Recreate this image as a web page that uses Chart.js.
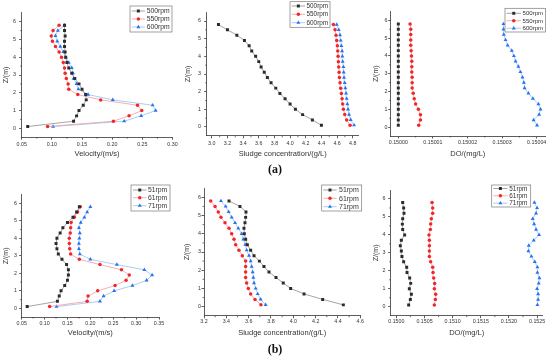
<!DOCTYPE html>
<html><head><meta charset="utf-8">
<script src="https://cdn.jsdelivr.net/npm/chart.js@4.4.1/dist/chart.umd.min.js"></script>
<style>
html,body{margin:0;padding:0;background:#fff;width:550px;height:361px;overflow:hidden}
body{position:relative}
canvas{position:absolute;left:0;top:0}
.lab{position:absolute;font:bold 12px "Liberation Serif","DejaVu Serif",serif;color:#111;transform:translate(-50%,-50%);white-space:nowrap}
</style></head><body>
<canvas id="p1" width="550" height="361"></canvas>
<canvas id="p2" width="550" height="361"></canvas>
<canvas id="p3" width="550" height="361"></canvas>
<canvas id="p4" width="550" height="361"></canvas>
<canvas id="p5" width="550" height="361"></canvas>
<canvas id="p6" width="550" height="361"></canvas>
<div class="lab" style="left:275px;top:169px">(a)</div>
<div class="lab" style="left:275px;top:349px">(b)</div>
<script>
// ---------- data ----------
const zPos = [0.1,0.4,0.7,1.0,1.3,1.6,1.9,2.2,2.5,2.8,3.1,3.4,3.7,4.0,4.3,4.6,4.9,5.2,5.5,5.8];
const zTicks = [0,1,2,3,4,5,6];

const namesA = ['500rpm','550rpm','600rpm'];
const namesB = ['51rpm','61rpm','71rpm'];

// (a) velocity
const velA500 = [0.060,0.136,0.141,0.145,0.152,0.157,0.156,0.150,0.145,0.138,0.133,0.128,0.125,0.123,0.122,0.121,0.121,0.122,0.121,0.121];
const velA550 = [0.093,0.202,0.228,0.249,0.242,0.181,0.143,0.128,0.127,0.124,0.122,0.121,0.119,0.116,0.112,0.106,0.101,0.099,0.102,0.112];
const velA600 = [0.102,0.220,0.248,0.272,0.267,0.201,0.160,0.144,0.141,0.136,0.135,0.133,0.128,0.123,0.119,0.114,0.109,0.106,0.110,0.121];
// (a) sludge
const sluA500 = [4.400,4.285,4.160,4.068,4.000,3.936,3.870,3.817,3.757,3.710,3.670,3.630,3.600,3.560,3.510,3.477,3.417,3.320,3.200,3.085];
const sluA550 = [4.766,4.723,4.698,4.681,4.672,4.664,4.655,4.647,4.638,4.630,4.626,4.621,4.617,4.613,4.609,4.604,4.596,4.587,4.574,4.553];
const sluA600 = [4.817,4.774,4.753,4.740,4.732,4.723,4.715,4.706,4.698,4.689,4.685,4.681,4.672,4.668,4.664,4.655,4.647,4.638,4.621,4.596];
// (a) DO
const doA500 = [0.15000,0.15000,0.15000,0.15000,0.15000,0.15000,0.15000,0.15000,0.15000,0.15000,0.15000,0.15000,0.15000,0.15000,0.15000,0.15000,0.15000,0.15000,0.15000,0.15000];
const doA550 = [0.1500059,0.1500064,0.1500064,0.1500058,0.1500050,0.1500046,0.1500043,0.1500040,0.1500040,0.1500040,0.1500039,0.1500039,0.1500039,0.1500038,0.1500037,0.1500036,0.1500036,0.1500036,0.1500036,0.1500034];
const doA600 = [0.1500401,0.1500391,0.1500407,0.1500411,0.1500405,0.1500389,0.1500376,0.1500365,0.1500363,0.1500359,0.1500353,0.1500347,0.1500339,0.1500334,0.1500328,0.1500316,0.1500310,0.1500305,0.1500304,0.1500304];
// (b) velocity
const velB51 = [0.062,0.128,0.132,0.136,0.144,0.150,0.152,0.152,0.148,0.138,0.130,0.127,0.125,0.127,0.134,0.140,0.150,0.162,0.170,0.176];
const velB61 = [0.111,0.193,0.195,0.216,0.254,0.278,0.285,0.268,0.221,0.176,0.157,0.155,0.154,0.154,0.156,0.157,0.158,0.165,0.172,0.178];
const velB71 = [0.126,0.221,0.229,0.252,0.292,0.323,0.335,0.318,0.258,0.200,0.177,0.175,0.175,0.176,0.177,0.175,0.179,0.187,0.193,0.200];
// (b) sludge
const sluB51 = [4.448,4.263,4.096,3.976,3.910,3.845,3.782,3.737,3.696,3.648,3.618,3.588,3.573,3.561,3.558,3.567,3.573,3.576,3.522,3.424];
const sluB61 = [3.710,3.657,3.618,3.597,3.582,3.573,3.573,3.573,3.573,3.543,3.513,3.484,3.469,3.448,3.424,3.388,3.352,3.328,3.299,3.260];
const sluB71 = [3.752,3.707,3.681,3.663,3.648,3.642,3.636,3.627,3.618,3.603,3.582,3.570,3.552,3.537,3.507,3.478,3.448,3.421,3.394,3.352];
// (b) DO
const doB51 = [0.150219,0.150249,0.150267,0.150231,0.150255,0.150237,0.150190,0.150184,0.150130,0.150100,0.150089,0.150071,0.150089,0.150148,0.150113,0.150107,0.150113,0.150136,0.150130,0.150113];
const doB61 = [0.150675,0.150693,0.150699,0.150675,0.150681,0.150664,0.150652,0.150646,0.150610,0.150587,0.150587,0.150587,0.150587,0.150580,0.150604,0.150610,0.150622,0.150646,0.150646,0.150634];
const doB71 = [0.152506,0.152518,0.152518,0.152500,0.152530,0.152542,0.152506,0.152506,0.152459,0.152400,0.152346,0.152352,0.152441,0.152536,0.152482,0.152447,0.152423,0.152482,0.152500,0.152453];

// tick labels
const velATicks = [0.05,0.10,0.15,0.20,0.25,0.30];
const sluATicks = [3.0,3.2,3.4,3.6,3.8,4.0,4.2,4.4,4.6,4.8];
const doATicks  = [0.15000,0.15001,0.15002,0.15003,0.15004];
const velBTicks = [0.05,0.10,0.15,0.20,0.25,0.30,0.35];
const sluBTicks = [3.2,3.4,3.6,3.8,4.0,4.2,4.4,4.6];
const doBTicks  = [0.1500,0.1505,0.1510,0.1515,0.1520,0.1525];

// ---------- styles ----------
const FONT = "'Liberation Sans', Arial, sans-serif";
const AX = '#333';
const STY = [
  {line:'#8e8e8e', fill:'#2b2b2b', shape:'rect', r:2.1},
  {line:'#f29a9a', fill:'#f0262b', shape:'circle', r:1.75},
  {line:'#98bff2', fill:'#2672f2', shape:'triangle', r:2.3}
];

function drawMarker(ctx, shape, x, y, r, color){
  ctx.fillStyle = color;
  ctx.beginPath();
  if (shape === 'rect') {
    const h = r * Math.SQRT1_2;
    ctx.rect(x - h, y - h, 2*h, 2*h);
  } else if (shape === 'circle') {
    ctx.arc(x, y, r, 0, Math.PI*2);
  } else {
    let a = 0;
    ctx.moveTo(x + Math.sin(a)*r, y - Math.cos(a)*r); a += 2*Math.PI/3;
    ctx.lineTo(x + Math.sin(a)*r, y - Math.cos(a)*r); a += 2*Math.PI/3;
    ctx.lineTo(x + Math.sin(a)*r, y - Math.cos(a)*r);
    ctx.closePath();
  }
  ctx.fill();
}

function mids(arr, lo, hi){
  const out = [];
  for (let i = 0; i < arr.length - 1; i++) {
    const m = (arr[i] + arr[i+1]) / 2;
    if (m >= lo && m <= hi) out.push(m);
  }
  return out;
}

function makePanel(id, c){
  const tl = 2.5;
  const xMinor = mids(c.xTicks, c.xmin, c.xmax);
  const yMinor = mids(zTicks, -0.5, 6.5);
  const legendPlugin = {
    id: 'boxLegend',
    afterDraw(chart){
      const ctx = chart.ctx, L = c.legend;
      ctx.save();
      ctx.fillStyle = '#fff';
      ctx.fillRect(L.x, L.y, L.w, L.h);
      ctx.strokeStyle = '#7a7a7a'; ctx.lineWidth = 0.7;
      ctx.strokeRect(L.x, L.y, L.w, L.h);
      chart.data.datasets.forEach((ds, i) => {
        const y = L.rows[i], s = STY[i];
        ctx.strokeStyle = s.line; ctx.lineWidth = 0.8;
        ctx.beginPath(); ctx.moveTo(L.lx0, y); ctx.lineTo(L.lx1, y); ctx.stroke();
        drawMarker(ctx, s.shape, (L.lx0 + L.lx1)/2, y, s.r, s.fill);
        ctx.fillStyle = '#333';
        ctx.font = L.fs + 'px ' + FONT;
        ctx.textAlign = 'left'; ctx.textBaseline = 'middle';
        ctx.fillText(ds.label, L.tx, y + 0.3);
      });
      ctx.restore();
    }
  };
  const minorPlugin = {
    id: 'minorTicks',
    afterDraw(chart){
      const ctx = chart.ctx, a = chart.chartArea;
      const xs = chart.scales.x, ys = chart.scales.y;
      ctx.save();
      ctx.strokeStyle = AX; ctx.lineWidth = 0.7;
      xMinor.forEach(v => {
        const px = xs.getPixelForValue(v);
        ctx.beginPath(); ctx.moveTo(px, a.bottom); ctx.lineTo(px, a.bottom + 1.5); ctx.stroke();
      });
      yMinor.forEach(v => {
        const py = ys.getPixelForValue(v);
        ctx.beginPath(); ctx.moveTo(a.left, py); ctx.lineTo(a.left - 1.5, py); ctx.stroke();
      });
      ctx.restore();
    }
  };
  new Chart(document.getElementById(id), {
    type: 'scatter',
    data: {
      datasets: c.series.map((vals, i) => ({
        label: c.names[i],
        data: vals.map((v, k) => ({x: v, y: zPos[k]})),
        showLine: true,
        borderColor: STY[i].line,
        borderWidth: 0.8,
        tension: 0,
        pointStyle: STY[i].shape,
        pointRadius: STY[i].r,
        pointHoverRadius: STY[i].r,
        pointBackgroundColor: STY[i].fill,
        pointBorderColor: STY[i].fill,
        pointBorderWidth: 0
      }))
    },
    options: {
      responsive: false,
      animation: false,
      events: [],
      layout: { padding: { left: c.pl, top: c.T, right: 550 - c.R, bottom: 361 - c.B - c.xH } },
      plugins: { legend: {display: false}, tooltip: {enabled: false}, title: {display: false} },
      scales: {
        x: {
          type: 'linear', position: 'bottom', min: c.xmin, max: c.xmax,
          afterFit: s => { s.height = c.xH; },
          afterBuildTicks: s => { s.ticks = c.xTicks.map(v => ({value: v})); },
          ticks: { callback: v => Number(v).toFixed(c.dec), font: {size: 5.3, family: FONT}, color: '#333',
                   padding: c.xp, maxRotation: 0, minRotation: 0, autoSkip: false, includeBounds: false },
          grid: { drawOnChartArea: false, drawTicks: true, tickLength: tl, tickColor: AX, tickWidth: 0.8 },
          border: { display: true, color: AX, width: 0.8 },
          title: { display: true, text: c.xTitle, font: {size: 7.5, family: FONT}, color: '#333', padding: 0 }
        },
        y: {
          type: 'linear', position: 'left', min: -0.5, max: 6.5,
          afterFit: s => { s.width = c.yW; },
          afterBuildTicks: s => { s.ticks = zTicks.map(v => ({value: v})); },
          ticks: { callback: v => String(v), font: {size: 5.3, family: FONT}, color: '#333',
                   padding: c.yp, autoSkip: false, includeBounds: false },
          grid: { drawOnChartArea: false, drawTicks: true, tickLength: tl, tickColor: AX, tickWidth: 0.8 },
          border: { display: true, color: AX, width: 0.8 },
          title: { display: true, text: 'Z/(m)', font: {size: 7, family: FONT}, color: '#333', padding: 0 }
        }
      }
    },
    plugins: [minorPlugin, legendPlugin]
  });
}

makePanel('p1', {
  names: namesA, series: [velA500, velA550, velA600],
  xmin: 0.05, xmax: 0.30, xTicks: velATicks, dec: 2, xTitle: 'Velocity/(m/s)',
  pl: 2.2, yW: 19.5, R: 172.5, T: 12.8, B: 137.2, xH: 20.8, xp: 1.8, yp: 3.2,
  legend: {x: 130, y: 6, w: 42, h: 26, rows: [11, 19, 27], lx0: 131.7, lx1: 145, tx: 146.7, fs: 6.8}
});
makePanel('p2', {
  names: namesA, series: [sluA500, sluA550, sluA600],
  xmin: 2.935, xmax: 4.875, xTicks: sluATicks, dec: 1, xTitle: 'Sludge concentration/(g/L)',
  pl: 183.8, yW: 22.9, R: 358.6, T: 12.2, B: 135.8, xH: 22.2, xp: 2.5, yp: 3.2,
  legend: {x: 290, y: 1.7, w: 40, h: 25.6, rows: [6, 14.3, 22.7], lx0: 291.7, lx1: 305, tx: 306.5, fs: 6.4}
});
makePanel('p3', {
  names: namesA, series: [doA500, doA550, doA600],
  xmin: 0.1499978, xmax: 0.1500424, xTicks: doATicks, dec: 5, xTitle: 'DO/(mg/L)',
  pl: 372.2, yW: 18.5, R: 545, T: 11.5, B: 136, xH: 22.5, xp: 0.8, yp: 0.7,
  legend: {x: 505, y: 8.3, w: 40.5, h: 23.7, rows: [13.3, 20.7, 28.3], lx0: 506.5, lx1: 521, tx: 522.5, fs: 6.1}
});
makePanel('p4', {
  names: namesB, series: [velB51, velB61, velB71],
  xmin: 0.05, xmax: 0.35, xTicks: velBTicks, dec: 2, xTitle: 'Velocity/(m/s)',
  pl: 2.2, yW: 19.5, R: 159, T: 194.6, B: 317.1, xH: 20.4, xp: 0.7, yp: 2.2,
  legend: {x: 131, y: 185, w: 39, h: 26, rows: [190, 197.7, 205.7], lx0: 133, lx1: 146.5, tx: 148, fs: 6.8}
});
makePanel('p5', {
  names: namesB, series: [sluB51, sluB61, sluB71],
  xmin: 3.2, xmax: 4.6, xTicks: sluBTicks, dec: 1, xTitle: 'Sludge concentration/(g/L)',
  pl: 182.8, yW: 21.2, R: 360.3, T: 188.2, B: 315.8, xH: 21.2, xp: 0.5, yp: 0.5,
  legend: {x: 321.7, y: 185, w: 40, h: 26, rows: [190, 198.3, 206.7], lx0: 323.3, lx1: 336.7, tx: 339, fs: 7}
});
makePanel('p6', {
  names: namesB, series: [doB51, doB61, doB71],
  xmin: 0.1499, xmax: 0.1526, xTicks: doBTicks, dec: 4, xTitle: 'DO/(mg/L)',
  pl: 372.2, yW: 18.5, R: 542.7, T: 190, B: 315.7, xH: 22.1, xp: 0.6, yp: 2.7,
  legend: {x: 491.7, y: 185, w: 39, h: 22, rows: [188.5, 195.8, 203.2], lx0: 493.3, lx1: 507.5, tx: 509.3, fs: 6.4}
});
</script>
</body></html>
